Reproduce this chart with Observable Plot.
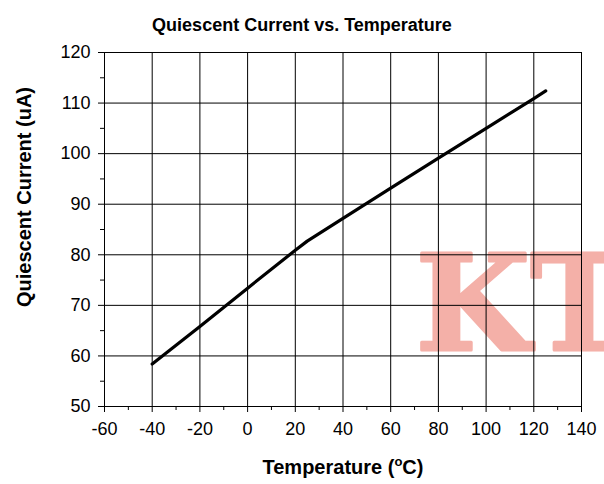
<!DOCTYPE html>
<html>
<head>
<meta charset="utf-8">
<script src="https://cdn.jsdelivr.net/npm/d3@7"></script>
<script src="https://cdn.jsdelivr.net/npm/@observablehq/plot@0.6"></script>
<style>
  html, body { margin: 0; padding: 0; background: #fff; }
  #wrap { position: relative; width: 604px; height: 484px; font-family: "Liberation Sans", Arial, sans-serif; overflow: hidden; background: #fff; }
  #title { position: absolute; left: 0; width: 604px; top: 15px; text-align: center; font-weight: bold; font-size: 18px; line-height: 20px; color: #000; }
  #chart { position: absolute; left: 0; top: 40px; }
  #xlabel { position: absolute; left: 0; width: 686px; top: 456px; text-align: center; font-weight: bold; font-size: 20px; line-height: 22px; }
  #xlabel sup { font-size: 13px; vertical-align: 8px; line-height: 0; }
  #ylabel { position: absolute; left: 24px; top: 197px; transform: translate(-50%, -50%) rotate(-90deg); white-space: nowrap; font-weight: bold; font-size: 20px; line-height: 22px; }
</style>
</head>
<body>
<div id="wrap">
  <div id="title">Quiescent Current vs. Temperature</div>
  <div id="chart"></div>
  <div id="ylabel">Quiescent Current (uA)</div>
  <div id="xlabel">Temperature (<sup>o</sup>C)</div>
</div>
<script>
const temperature = [-40, -20, 0, 20, 25, 40, 60, 80, 100, 120, 125];
const current     = [58.4, 65.8, 73.4, 80.9, 82.7, 87.2, 93.2, 99.1, 105.0, 110.9, 112.4];
const xTicks = [-60, -40, -20, 0, 20, 40, 60, 80, 100, 120, 140];
const xMinor = [-50, -30, -10, 10, 30, 50, 70, 90, 110, 130];
const yTicks = [50, 60, 70, 80, 90, 100, 110, 120];
const yMinor = [55, 65, 75, 85, 95, 105, 115];
const watermark = ["KT"];

const data = temperature.map((t, i) => ({t, c: current[i]}));
const fmt = d => String(d);

const chart = Plot.plot({
  width: 604,
  height: 444,
  marginLeft: 104,
  marginRight: 23,
  marginTop: 12,
  marginBottom: 78,
  style: { fontFamily: "Liberation Sans, Arial, sans-serif", fontSize: "18px", color: "#000", background: "transparent" },
  x: { domain: [-60, 140], label: null },
  y: { domain: [50, 120], label: null },
  marks: [
    Plot.text(watermark, {
      text: d => d, frameAnchor: "bottom-right", textAnchor: "start", lineAnchor: "bottom",
      dx: -166, dy: -57, fontSize: 132, fontFamily: "DejaVu Serif, serif", fontWeight: "bold",
      fill: "#f4b0a8", stroke: "#f4b0a8", strokeWidth: 3, letterSpacing: 5
    }),
    Plot.gridX(xTicks, { stroke: "#000", strokeOpacity: 1, strokeWidth: 1 }),
    Plot.gridY(yTicks, { stroke: "#000", strokeOpacity: 1, strokeWidth: 1 }),
    Plot.frame({ stroke: "#000", strokeWidth: 1 }),
    Plot.axisX(xTicks, { tickSize: 6, tickPadding: 10, tickFormat: fmt, label: null, stroke: "#000" }),
    Plot.axisX(xMinor, { tickSize: 4, text: null, label: null, stroke: "#000" }),
    Plot.axisY(yTicks, { tickSize: 6, tickPadding: 8, tickFormat: fmt, label: null, stroke: "#000" }),
    Plot.axisY(yMinor, { tickSize: 4, text: null, label: null, stroke: "#000" }),
    Plot.line(data, { x: "t", y: "c", stroke: "#000", strokeWidth: 3.2 })
  ]
});
document.getElementById("chart").appendChild(chart);
</script>
</body>
</html>
